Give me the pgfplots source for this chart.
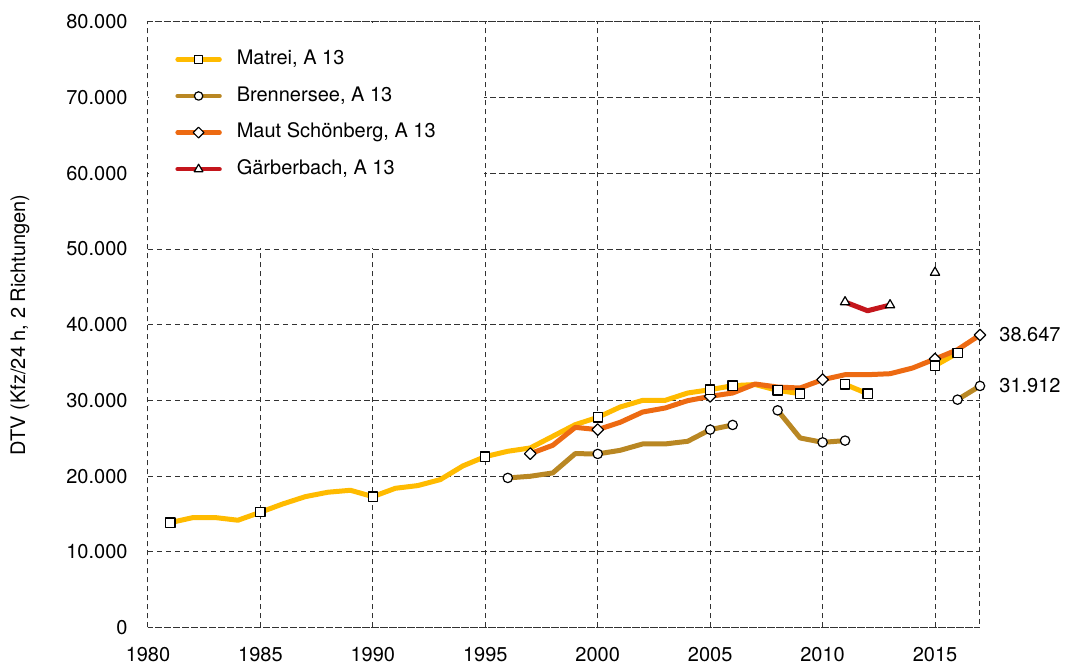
\documentclass[border=0pt]{standalone}
\usepackage{pgfplots}
\pgfplotsset{compat=1.18}
\usepackage{pgfplotstable}
\usepackage{fontspec}
\setmainfont{TeX Gyre Heros}
\definecolor{cMat}{RGB}{255,187,0}
\definecolor{cBre}{RGB}{185,135,35}
\definecolor{cMau}{RGB}{237,106,18}
\definecolor{cGar}{RGB}{196,22,28}
\definecolor{cGrid}{RGB}{50,50,50}

\pgfplotstableread{
year val
1981 13860
1982 14520
1983 14520
1984 14170
1985 15230
1986 16330
1987 17290
1988 17870
1989 18130
1990 17290
1991 18390
1992 18750
1993 19540
1994 21340
1995 22580
1996 23280
1997 23720
1998 25260
1999 26800
2000 27760
2001 29130
2002 30010
2003 30010
2004 30980
2005 31420
2006 31950
2007 32100
2008 31330
2009 30890
2010 nan
2011 32120
2012 30890
2013 nan
2014 nan
2015 34590
2016 36260
}\matrei
\pgfplotstableread{
year val
1981 13860
1985 15230
1990 17290
1995 22580
2000 27760
2005 31420
2006 31950
2008 31330
2009 30890
2011 32120
2012 30890
2015 34590
2016 36260
}\matreiM
\pgfplotstableread{
year val
1996 19760
1997 19980
1998 20420
1999 22970
2000 22930
2001 23410
2002 24250
2003 24250
2004 24600
2005 26140
2006 26760
2007 nan
2008 28690
2009 25040
2010 24460
2011 24690
2012 nan
2016 30100
2017 31912
}\brenner
\pgfplotstableread{
year val
1996 19760
2000 22930
2005 26140
2006 26760
2008 28690
2010 24460
2011 24690
2016 30100
2017 31912
}\brennerM
\pgfplotstableread{
year val
1997 22970
1998 24070
1999 26440
2000 26140
2001 27110
2002 28470
2003 29000
2004 29970
2005 30540
2006 30980
2007 32170
2008 31770
2009 31640
2010 32740
2011 33400
2012 33400
2013 33530
2014 34280
2015 35470
2016 36700
2017 38647
}\maut
\pgfplotstableread{
year val
1997 22970
2000 26140
2005 30540
2010 32740
2015 35470
2017 38647
}\mautM
\pgfplotstableread{
year val
2011 43000
2012 41850
2013 42600
2014 nan
2015 46900
}\garb
\pgfplotstableread{
year val
2011 43000
2013 42600
2015 46900
}\garbM

\begin{document}
\begin{tikzpicture}
\begin{axis}[
  scale only axis, width=416pt, height=302.75pt,
  xmin=1980, xmax=2017, ymin=0, ymax=80000,
  scaled x ticks=false, scaled y ticks=false,
  xtick={1980,1985,1990,1995,2000,2005,2010,2015},
  xticklabels={1980,1985,1990,1995,2000,2005,2010,2015},
  ytick={0,10000,20000,30000,40000,50000,60000,70000,80000},
  yticklabels={0,10.000,20.000,30.000,40.000,50.000,60.000,70.000,80.000},
  grid=major,
  major grid style={draw=cGrid, line width=0.5pt, dash pattern=on 2.75pt off 1.75pt},
  axis line style={draw=cGrid, line width=0.5pt, dash pattern=on 2.75pt off 1.75pt},
  major tick length=0pt,
  xticklabel style={yshift=-6.4pt},
  yticklabel style={xshift=-6.7pt},
  unbounded coords=jump, clip=false,
  legend image code/.code={\draw[mark repeat=2,mark phase=2,#1] plot coordinates {(0pt,0pt) (10.5pt,0pt) (21pt,0pt)};},
  legend style={at={(rel axis cs:0,1)}, anchor=north west, xshift=13.5pt, yshift=-14pt,
    draw=none, fill=none, inner sep=0pt, row sep=9.3pt, column sep=7.5pt,
    nodes={inner sep=0pt, text height=7.2pt, text depth=1.8pt}},
  legend cell align=left,
  every axis plot/.append style={line width=2.5pt, line join=round, line cap=round},
]
\fill[white] ([shift={(0.5pt,0.5pt)}]axis cs:1980,50000) rectangle ([shift={(-0.5pt,-0.5pt)}]axis cs:1995,80000);

\addlegendimage{cMat, line width=2.2pt, line cap=round, mark=square*, mark size=2pt, mark options={fill=white, draw=black, line width=0.6pt}}
\addlegendentry{Matrei, A 13}
\addlegendimage{cBre, line width=2.2pt, line cap=round, mark=*, mark size=2.1pt, mark options={fill=white, draw=black, line width=0.6pt}}
\addlegendentry{Brennersee, A 13}
\addlegendimage{cMau, line width=2.2pt, line cap=round, mark=square*, mark size=1.9pt, mark options={fill=white, draw=black, line width=0.6pt, rotate=45}}
\addlegendentry{Maut Schönberg, A 13}
\addlegendimage{cGar, line width=2.2pt, line cap=round, mark=triangle*, mark size=2.5pt, mark options={fill=white, draw=black, line width=0.6pt}}
\addlegendentry{Gärberbach, A 13}

\addplot[cMat, no marks, forget plot] table[x=year, y=val] {\matrei};
\addplot[cBre, no marks, forget plot] table[x=year, y=val] {\brenner};
\addplot[cMau, no marks, forget plot] table[x=year, y=val] {\maut};
\addplot[cGar, no marks, forget plot] table[x=year, y=val] {\garb};

\addplot[only marks, mark=square*, mark size=2.05pt, mark options={fill=white, draw=black, line width=0.6pt, rotate=45}, forget plot] table[x=year, y=val] {\mautM};
\addplot[only marks, mark=square*, mark size=2.3pt, mark options={fill=white, draw=black, line width=0.6pt}, forget plot] table[x=year, y=val] {\matreiM};
\addplot[only marks, mark=*, mark size=2.35pt, mark options={fill=white, draw=black, line width=0.6pt}, forget plot] table[x=year, y=val] {\brennerM};
\addplot[only marks, mark=triangle*, mark size=2.7pt, mark options={fill=white, draw=black, line width=0.6pt}, forget plot] table[x=year, y=val] {\garbM};

\node[anchor=west, inner sep=0pt, xshift=9.5pt] at (axis cs:2017,38647) {38.647};
\node[anchor=west, inner sep=0pt, xshift=9.5pt] at (axis cs:2017,31912) {31.912};
\node[rotate=90, anchor=center] at ([xshift=-64pt]rel axis cs:0,0.5) {DTV (Kfz/24 h, 2 Richtungen)};

\coordinate (sw) at (rel axis cs:0,0);
\coordinate (ne) at (rel axis cs:1,1);
\end{axis}
\pgfresetboundingbox
\path ([shift={(-74pt,-19.25pt)}]sw) rectangle ([shift={(45pt,11pt)}]ne);
\end{tikzpicture}
\end{document}
